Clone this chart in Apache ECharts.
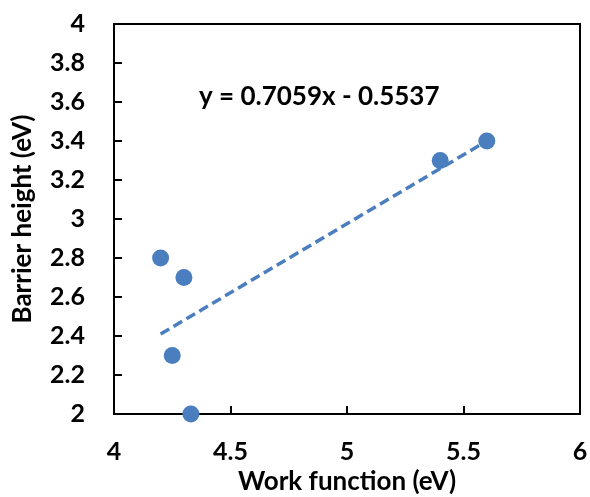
<!DOCTYPE html>
<html><head><meta charset="utf-8">
<script src="https://cdn.jsdelivr.net/npm/echarts@6/dist/echarts.min.js"></script>
<style>html,body{margin:0;padding:0;background:#fff}#c{width:590px;height:497px}</style>
</head><body><div id="c"></div>
<script>
const workFunction = [4.2, 4.3, 4.25, 4.33, 5.4, 5.6];
const barrierHeight = [2.8, 2.7, 2.3, 2.0, 3.3, 3.4];
const trendX = [4.2, 5.6];
const trendY = [2.41, 3.40];
const equation = 'y = 0.7059x - 0.5537';
const xTitle = 'Work function (eV)';
const yTitle = 'Barrier height (eV)';

const font = 'Lato, "Open Sans", sans-serif';
const blue = '#4a7ebe';
const chart = echarts.init(document.getElementById('c'));
chart.setOption({
  animation: false,
  grid: {left: 114, right: 10, top: 24, bottom: 83, show: true, borderColor: '#000', borderWidth: 2, outerBoundsMode: 'none', containLabel: false},
  xAxis: {
    type: 'value', min: 4, max: 6, interval: 0.5,
    name: xTitle, nameLocation: 'middle', nameGap: 55,
    nameTextStyle: {fontFamily: font, fontWeight: 'bold', fontSize: 26, color: '#000'},
    axisLine: {lineStyle: {color: '#000', width: 2}},
    axisTick: {inside: true, length: 8, lineStyle: {color: '#000', width: 2}},
    axisLabel: {margin: 25, fontFamily: font, fontWeight: 'bold', fontSize: 25, color: '#000'},
    splitLine: {show: false}
  },
  yAxis: {
    type: 'value', min: 2, max: 4, interval: 0.2,
    name: yTitle, nameLocation: 'middle', nameGap: 78, nameMoveOverlap: false,
    nameTextStyle: {fontFamily: font, fontWeight: 'bold', fontSize: 26, color: '#000'},
    axisLine: {lineStyle: {color: '#000', width: 2}},
    axisTick: {inside: true, length: 8, lineStyle: {color: '#000', width: 2}},
    axisLabel: {margin: 29, fontFamily: font, fontWeight: 'bold', fontSize: 25, color: '#000',
      formatter: v => String(Math.round(v * 10) / 10)},
    splitLine: {show: false}
  },
  graphic: [{
    type: 'text', left: 199, top: 84,
    style: {text: equation, font: 'bold 26px ' + font, fill: '#000'}
  }],
  series: [
    {
      type: 'line', data: trendX.map((x, i) => [x, trendY[i]]),
      symbol: 'none', lineStyle: {color: blue, width: 3.5, type: [10, 5]}, z: 2
    },
    {
      type: 'scatter', data: workFunction.map((x, i) => [x, barrierHeight[i]]),
      symbolSize: 17, itemStyle: {color: blue, opacity: 1}, clip: false, z: 3
    }
  ]
});
</script></body></html>
